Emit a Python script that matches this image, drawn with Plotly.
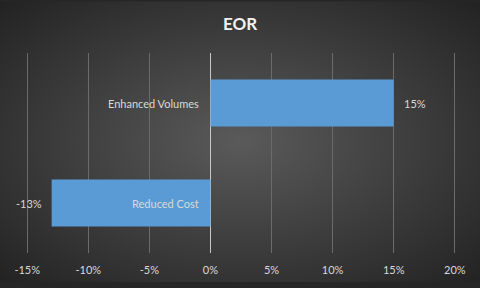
import base64
import plotly.graph_objects as go

categories = ["Reduced Cost", "Enhanced Volumes"]
values = [-0.13, 0.15]
value_labels = ["-13%", "15%"]
tick_vals = [-0.15, -0.10, -0.05, 0.0, 0.05, 0.10, 0.15, 0.20]
tick_text = ["-15%", "-10%", "-5%", "0%", "5%", "10%", "15%", "20%"]
title_text = "EOR"

font_family = "Lato, 'Open Sans', sans-serif"
label_color = "#d9d9d9"

svg = (
    '<svg xmlns="http://www.w3.org/2000/svg" width="480" height="288" viewBox="0 0 480 288" preserveAspectRatio="none">'
    '<defs><radialGradient id="g" cx="50%" cy="50%" r="70%" fx="50%" fy="50%">'
    '<stop offset="0%" stop-color="#5a5a5a"/>'
    '<stop offset="100%" stop-color="#232323"/>'
    '</radialGradient></defs>'
    '<rect width="480" height="288" fill="url(#g)"/></svg>'
)
bg_uri = "data:image/svg+xml;base64," + base64.b64encode(svg.encode()).decode()

fig = go.Figure()
fig.add_trace(go.Bar(
    y=categories,
    x=values,
    orientation="h",
    marker=dict(color="#5b9bd5", line=dict(width=0)),
    hoverinfo="skip",
))

for cat in categories:
    fig.add_annotation(
        x=0, y=cat, xref="x", yref="y",
        text=cat, showarrow=False,
        xanchor="right", xshift=-9,
        font=dict(color=label_color, size=11, family=font_family),
    )

for cat, val, lab in zip(categories, values, value_labels):
    fig.add_annotation(
        x=val, y=cat, xref="x", yref="y",
        text=lab, showarrow=False,
        xanchor="left" if val >= 0 else "right",
        xshift=8 if val >= 0 else -8,
        font=dict(color=label_color, size=11, family=font_family),
    )

L, R, T, B = 26, 24, 53, 30
PW, PH = 480 - L - R, 288 - T - B

fig.update_layout(
    width=480, height=288,
    margin=dict(l=L, r=R, t=T, b=B),
    paper_bgcolor="#262626",
    plot_bgcolor="rgba(0,0,0,0)",
    showlegend=False,
    bargap=0.53,
    title=dict(
        text="<b>" + title_text + "</b>",
        x=0.5, xanchor="center", y=0.915, yanchor="middle",
        font=dict(color="#f2f2f2", size=17, family=font_family),
    ),
    images=[dict(
        source=bg_uri, xref="paper", yref="paper",
        x=-L / PW, y=1 + T / PH, sizex=480 / PW, sizey=288 / PH,
        xanchor="left", yanchor="top", sizing="stretch", layer="below",
    )],
    xaxis=dict(
        range=[-0.151, 0.201],
        tickvals=tick_vals,
        ticktext=tick_text,
        showgrid=True,
        gridcolor="#6b6b6b",
        gridwidth=1,
        zeroline=True,
        zerolinecolor="#c8c8c8",
        zerolinewidth=1,
        showline=False,
        ticks="",
        ticklabelstandoff=9,
        tickfont=dict(color=label_color, size=11, family=font_family),
        fixedrange=True,
    ),
    yaxis=dict(
        showticklabels=False,
        showgrid=False,
        zeroline=False,
        showline=False,
        ticks="",
        fixedrange=True,
    ),
)

fig.write_html("out.html")
